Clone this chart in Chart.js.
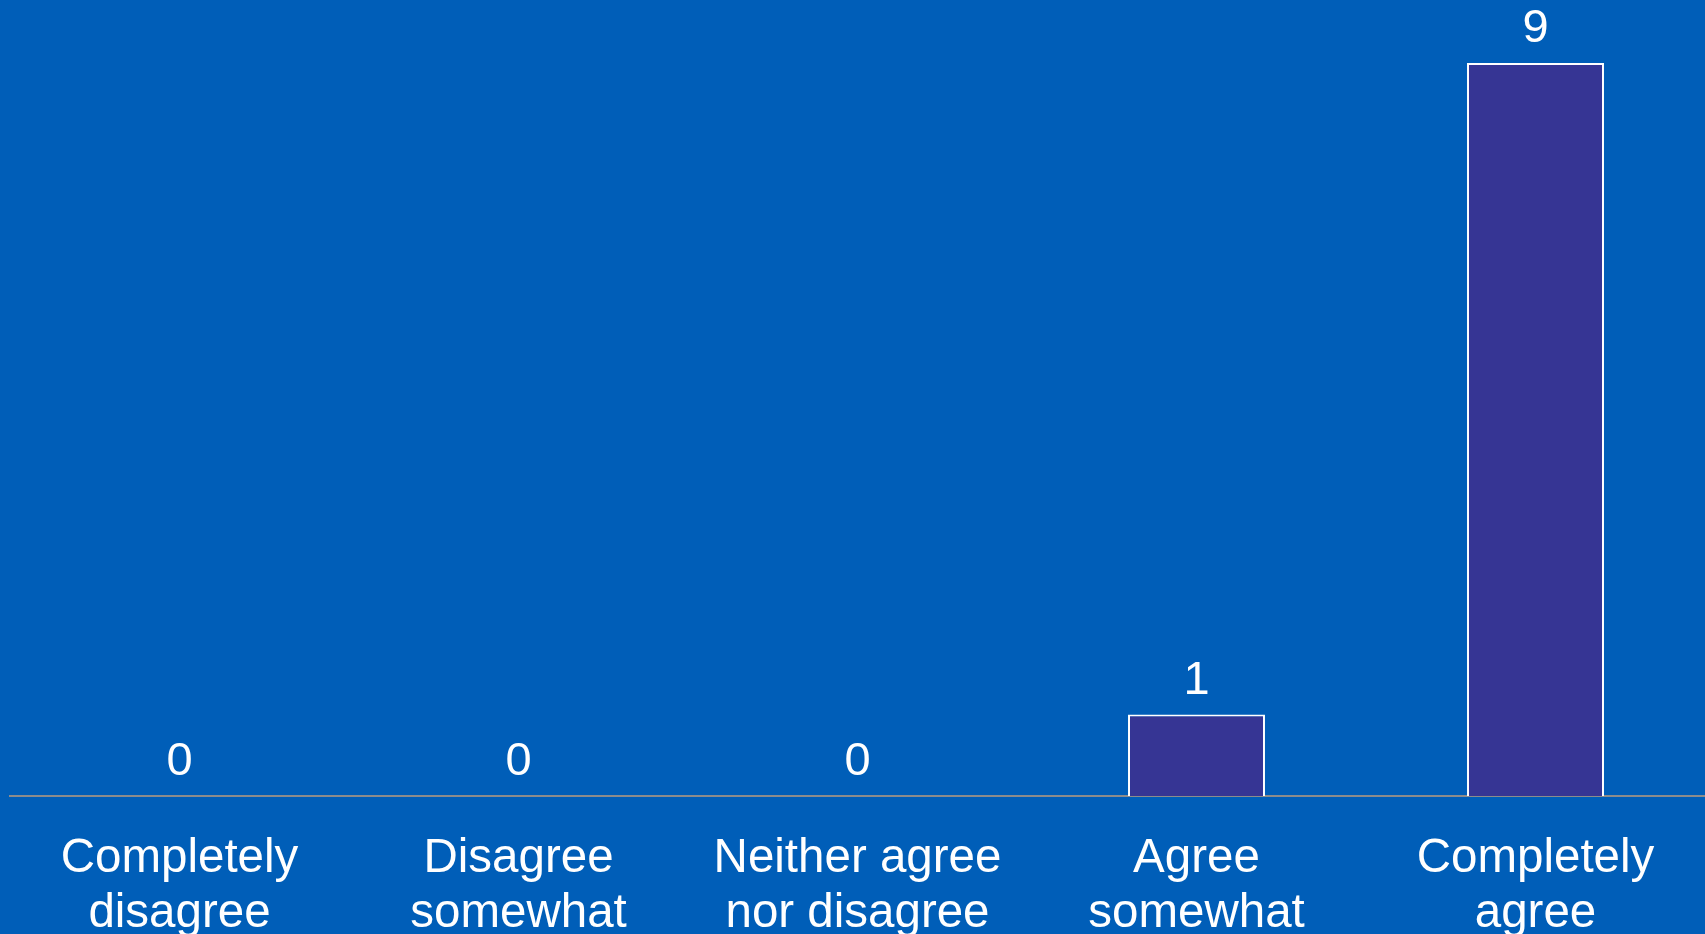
<!DOCTYPE html>
<html>
<head>
<meta charset="utf-8">
<script src="https://cdn.jsdelivr.net/npm/chart.js@4.4.1/dist/chart.umd.min.js"></script>
<style>
  html, body { margin: 0; padding: 0; background: #005eb8; overflow: hidden; }
  #wrap { width: 1705px; height: 934px; position: relative; }
</style>
</head>
<body>
<div id="wrap"><canvas id="survey-chart"></canvas></div>
<script>
// Respuestas de la encuesta
const categories = [
    ['Completely', 'disagree'],
    ['Disagree', 'somewhat'],
    ['Neither agree', 'nor disagree'],
    ['Agree', 'somewhat'],
    ['Completely', 'agree']
];
const responses = [0, 0, 0, 1, 9];

// Etiquetas con el valor encima de cada barra
const valueLabels = {
    id: 'valueLabels',
    afterDatasetsDraw(chart) {
        const ctx = chart.ctx;
        const meta = chart.getDatasetMeta(0);
        ctx.save();
        ctx.fillStyle = '#ffffff';
        ctx.font = '47px "Liberation Sans", Arial, sans-serif';
        ctx.textAlign = 'center';
        ctx.textBaseline = 'alphabetic';
        meta.data.forEach((bar, i) => {
            ctx.fillText(String(responses[i]), bar.x, bar.y - 21);
        });
        ctx.restore();
    }
};

document.addEventListener('DOMContentLoaded', function() {
    Chart.defaults.font.family = '"Liberation Sans", Arial, sans-serif';
    const ctx = document.getElementById('survey-chart').getContext('2d');
    new Chart(ctx, {
        type: 'bar',
        data: {
            labels: categories,
            datasets: [{
                data: responses,
                backgroundColor: '#363594',
                borderColor: '#ffffff',
                borderWidth: 2,
                borderSkipped: 'bottom',
                categoryPercentage: 0.8,
                barPercentage: 0.505
            }]
        },
        options: {
            responsive: true,
            maintainAspectRatio: false,
            animation: false,
            layout: {
                padding: { top: 63, left: 10, right: 0, bottom: 0 }
            },
            scales: {
                x: {
                    grid: { display: false },
                    border: { display: true, color: '#8c8c8c', width: 2 },
                    ticks: {
                        color: '#ffffff',
                        padding: 27,
                        maxRotation: 0,
                        autoSkip: false,
                        font: { size: 47.5, lineHeight: 1.16 }
                    },
                    afterFit(scale) {
                        scale.height = 138;
                    }
                },
                y: {
                    display: false,
                    min: 0,
                    max: 9
                }
            },
            plugins: {
                legend: { display: false },
                tooltip: { enabled: false }
            }
        },
        plugins: [valueLabels]
    });
});
</script>
</body>
</html>
